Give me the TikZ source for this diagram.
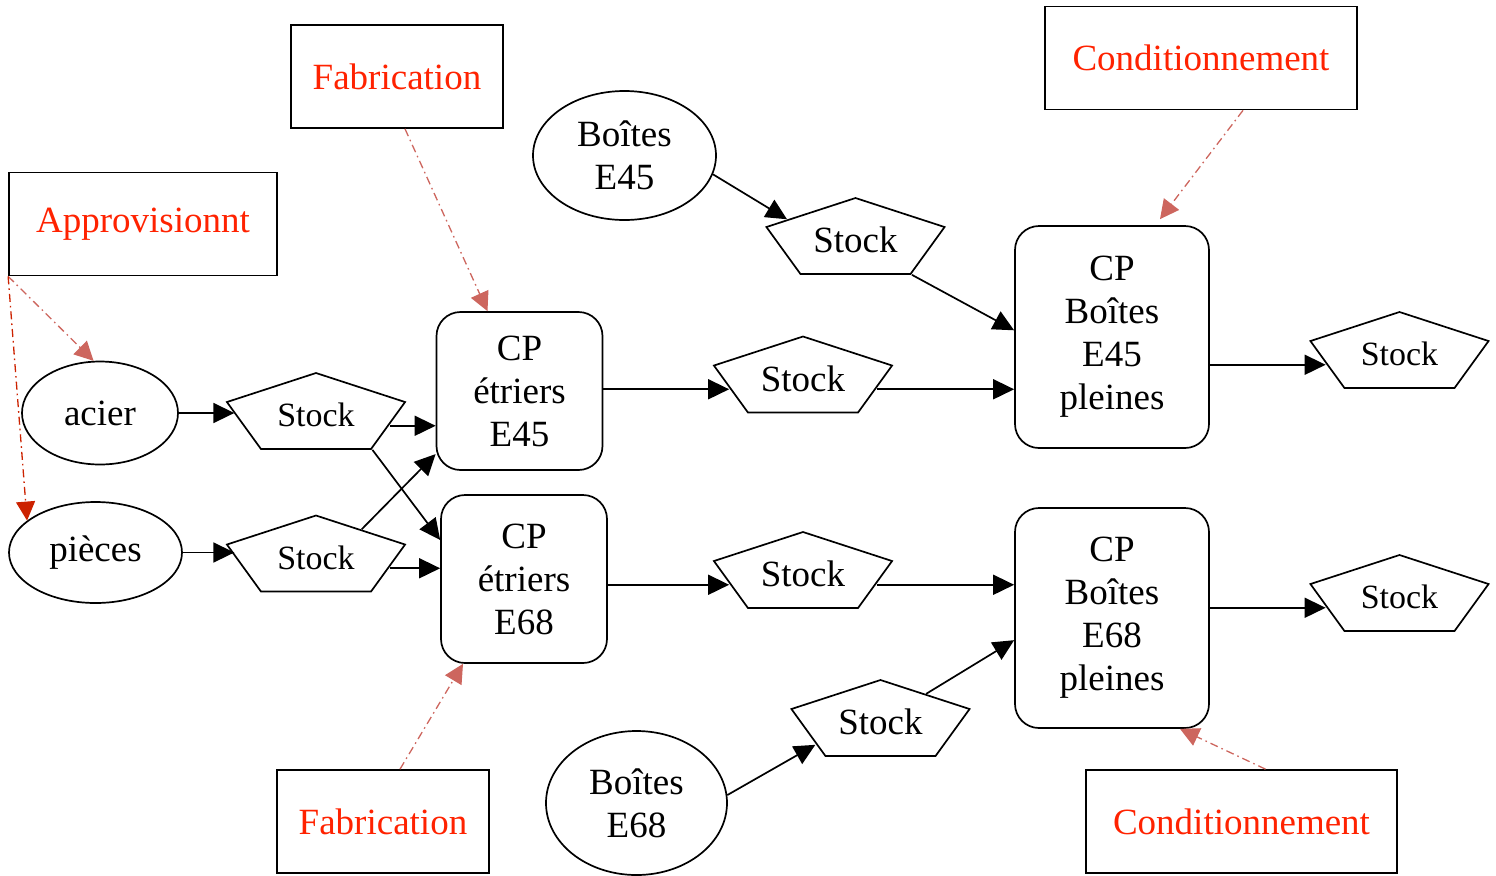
\documentclass[tikz,border=0pt]{standalone}
\usepackage{fontspec}
\setmainfont{Liberation Serif}
\usepackage{graphicx}
\usetikzlibrary{shapes.geometric,arrows.meta,calc}

\definecolor{titlered}{RGB}{255,34,0}
\definecolor{linkred}{RGB}{205,102,94}
\definecolor{darkred}{RGB}{204,34,0}

\tikzset{
  proc/.style={draw, text=titlered, minimum height=51.5pt},
  item/.style={ellipse, draw, inner sep=0pt, align=center},
  cp/.style={draw, rounded corners=12pt, align=center, minimum width=83pt},
  stock/.style={regular polygon, regular polygon sides=5, draw, minimum size=42pt,
    inner sep=0pt, xscale=2.23, transform shape},
  ctrl/.style={->, linkred, line width=0.65pt,
    dash pattern=on 4pt off 2pt on 0.8pt off 2pt,
    >={Triangle[length=9.5pt,width=9.5pt]}}
}
\newcommand{\stk}[1]{\scalebox{0.448}[1]{#1}}

\begin{document}
\begin{tikzpicture}[x=0.5pt, y=-0.5pt, line width=0.85pt,
    >={Triangle[length=10.5pt,width=10pt]},
    font=\fontsize{18.5}{21.5}\selectfont]
  \useasboundingbox (0,0) rectangle (1496,875);

  % services
  \node[proc, minimum width=106pt] (fab1) at (397,76.5) {Fabrication};
  \node[proc, minimum width=134pt] (appro) at (143,224) {Approvisionnt};
  \node[proc, minimum width=156pt] (cond1) at (1201,58) {Conditionnement};
  \node[proc, minimum width=106pt] (fab2) at (383,821.5) {Fabrication};
  \node[proc, minimum width=155.5pt] (cond2) at (1241.5,821.5) {Conditionnement};

  % matieres
  \node[item, minimum width=91.5pt, minimum height=64.5pt] (be45) at (624.5,155.5) {Boîtes\\E45};
  \node[item, minimum width=78pt, minimum height=51.5pt] (acier) at (100,413) {acier};
  \node[item, minimum width=86.5pt, minimum height=50.5pt] (pieces) at (95.5,552.5) {pièces};
  \node[item, minimum width=90.5pt, minimum height=72pt] (be68) at (636.5,803) {Boîtes\\E68};

  % stocks
  \begin{scope}[every node/.style={stock}]
    \node[font=\fontsize{17}{20}\selectfont] (sa) at (316,415) {\stk{Stock}};
    \node[font=\fontsize{17}{20}\selectfont] (sp) at (316,557.5) {\stk{Stock}};
    \node (sbt) at (855.5,240) {\stk{Stock}};
    \node (set45) at (803,378.5) {\stk{Stock}};
    \node (set68) at (803,574) {\stk{Stock}};
    \node (sbb) at (880.5,722) {\stk{Stock}};
    \node[font=\fontsize{17}{20}\selectfont] (so45) at (1399.5,354) {\stk{Stock}};
    \node[font=\fontsize{17}{20}\selectfont] (so68) at (1399.5,597) {\stk{Stock}};
  \end{scope}

  % centres de production
  \node[cp, minimum height=79pt] (cpa) at (519.5,391) {CP\\étriers\\E45};
  \node[cp, minimum height=84pt] (cpb) at (524,579) {CP\\étriers\\E68};
  \node[cp, minimum width=97pt, minimum height=111pt] (bxa) at (1112,337) {CP\\Boîtes\\E45\\pleines};
  \node[cp, minimum width=97pt, minimum height=110pt] (bxb) at (1112,618) {CP\\Boîtes\\E68\\pleines};

  % flux
  \begin{scope}
    \path [->] (acier.east) edge (acier.east -| sa.west);
    \path [->] (pieces.east) edge (pieces.east -| sp.west);
    \path [->] (sa.side 4) edge (sa.side 4 -| cpa.west);
    \path [->] (sa.corner 4) edge ($(cpb.north west)!0.27!(cpb.south west)$);
    \path [->] (sp.side 5) edge ($(cpa.north west)!0.895!(cpa.south west)$);
    \path [->] (sp.side 4) edge (sp.side 4 -| cpb.west);

    \path [->] (cpa.east |- set45.side 2) edge (set45.side 2);
    \path [->] (set45.side 4) edge (set45.side 4 -| bxa.west);
    \path [->] (cpb.east |- set68.side 2) edge (set68.side 2);
    \path [->] (set68.side 4) edge (set68.side 4 -| bxb.west);

    \path [->] (be45.-12) edge ($(sbt.corner 2)!0.25!(sbt.corner 1)$);
    \path [->] (sbt.corner 4) edge ($(bxa.north west)!0.47!(bxa.south west)$);
    \path [->] (be68.5) edge ($(sbb.corner 2)!0.75!(sbb.corner 3)$);
    \path [->] (sbb.side 5) edge ($(bxb.north west)!0.6!(bxb.south west)$);

    \path [->] (bxa.east |- so45.side 2) edge (so45.side 2);
    \path [->] (bxb.east |- so68.side 2) edge (so68.side 2);
  \end{scope}

  % pilotage
  \begin{scope}[ctrl]
    \path (appro.south west) edge (acier.97);
    \path [darkred] (appro.south west) edge (pieces.155);
    \path ([xshift=4pt]fab1.south) edge ([xshift=-16pt]cpa.north);
    \path ([xshift=8.5pt]fab2.north) edge ([xshift=-30.5pt]cpb.south);
    \path ([xshift=21pt]cond1.south) edge ([xshift=24pt,yshift=3pt]bxa.north);
    \path ([xshift=12pt]cond2.north) edge ([xshift=34pt]bxb.south);
  \end{scope}
\end{tikzpicture}
\end{document}
